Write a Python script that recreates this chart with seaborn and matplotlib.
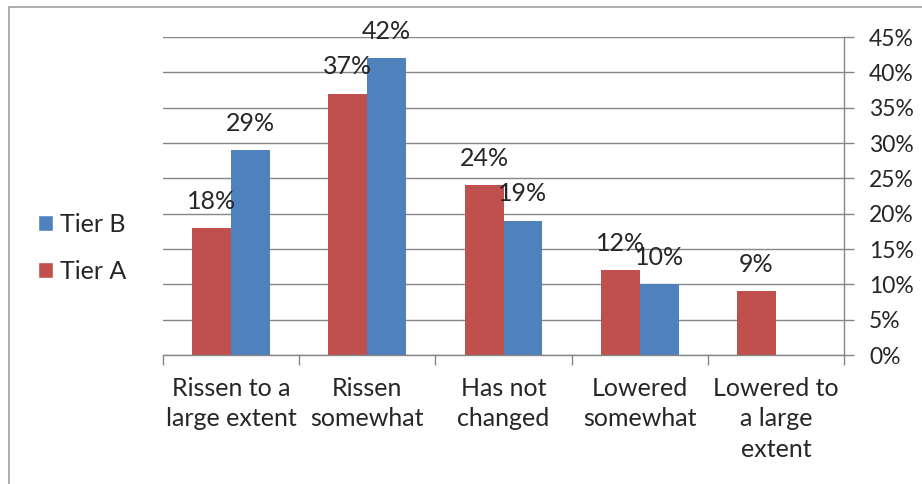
import matplotlib
matplotlib.use("Agg")
import matplotlib.pyplot as plt
import seaborn as sns
import pandas as pd
import numpy as np
from matplotlib.patches import Rectangle, Patch

categories = ["Rissen to a\nlarge extent", "Rissen\nsomewhat", "Has not\nchanged",
              "Lowered\nsomewhat", "Lowered to\na large\nextent"]
tier_a = [0.18, 0.37, 0.24, 0.12, 0.09]
tier_b = [0.29, 0.42, 0.19, 0.10, 0.0]
tier_b_shown = [True, True, True, True, False]
series = ["Tier A", "Tier B"]
colors = {"Tier A": "#C0504D", "Tier B": "#4F81BD"}
yticks = [0, 0.05, 0.10, 0.15, 0.20, 0.25, 0.30, 0.35, 0.40, 0.45]
ytick_labels = ["0%", "5%", "10%", "15%", "20%", "25%", "30%", "35%", "40%", "45%"]

df = pd.DataFrame({
    "category": categories * 2,
    "series": ["Tier A"] * len(categories) + ["Tier B"] * len(categories),
    "value": tier_a + tier_b,
})

sns.set_theme(style="white")
plt.rcParams["font.family"] = ["Lato", "DejaVu Sans"]
FS = 18
FS_Y = 16.5

fig = plt.figure(figsize=(9.22, 4.84), dpi=100)
ax = fig.add_axes([163 / 922, 1 - 355 / 484, (844 - 163) / 922, (355 - 37) / 484])

sns.barplot(data=df, x="category", y="value", hue="series", hue_order=series,
            order=categories, palette=colors, width=0.57, saturation=1,
            ax=ax, legend=False, linewidth=0)

ax.set_ylim(0, 0.45)
ax.set_xlim(-0.5, len(categories) - 0.5)
ax.yaxis.tick_right()
ax.set_yticks(yticks)
ax.set_yticklabels(ytick_labels, fontsize=FS_Y)
ax.grid(axis="y", color="#868686", linewidth=1)
ax.set_axisbelow(True)
ax.set_xlabel("")
ax.set_ylabel("")
ax.tick_params(axis="y", which="major", length=7, width=1, color="#868686", pad=11, right=True)
ax.set_xticks(range(len(categories)))
ax.set_xticklabels(categories, fontsize=FS, linespacing=1.38, va="top")
ax.tick_params(axis="x", which="major", length=0, pad=16)
ax.set_xticks(np.arange(-0.5, len(categories), 1), minor=True)
ax.tick_params(axis="x", which="minor", length=7, width=1, color="#868686", bottom=True)
for s in ["left", "top"]:
    ax.spines[s].set_visible(False)
for s in ["right", "bottom"]:
    ax.spines[s].set_color("#868686")
    ax.spines[s].set_linewidth(1)

labels_a = [f"{round(v * 100)}%" for v in tier_a]
labels_b = [f"{round(v * 100)}%" if shown else "" for v, shown in zip(tier_b, tier_b_shown)]
for cont, labels in zip(ax.containers, [labels_a, labels_b]):
    ax.bar_label(cont, labels=labels, padding=11, fontsize=FS)

handles = [Patch(facecolor=colors["Tier B"], label="Tier B"),
           Patch(facecolor=colors["Tier A"], label="Tier A")]
fig.legend(handles=handles, loc="center left", bbox_to_anchor=(25 / 922, 1 - 248 / 484),
           frameon=False, fontsize=FS, handlelength=0.6, handleheight=0.6,
           handletextpad=0.3, labelspacing=0.95, borderpad=0)

fig.patches.append(Rectangle((9 / 922, -0.1), 2, 1.1 - 7 / 484, transform=fig.transFigure,
                             fill=False, edgecolor="#A0A0A0", linewidth=1.2, figure=fig))

fig.savefig("out.png", dpi=100)
